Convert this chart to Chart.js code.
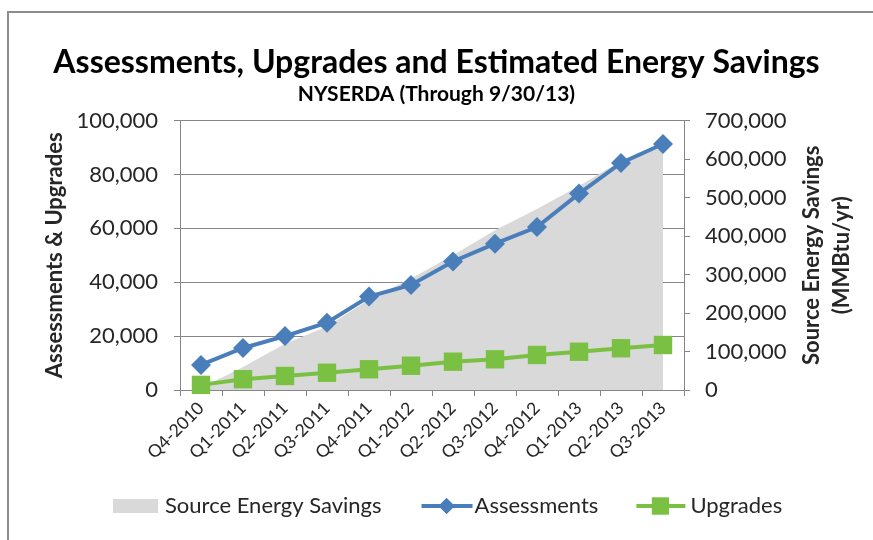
<!DOCTYPE html>
<html>
<head>
<meta charset="utf-8">
<script src="https://cdn.jsdelivr.net/npm/chart.js@4.4.1/dist/chart.umd.min.js"></script>
<style>
  html, body { margin: 0; padding: 0; background: #fff; overflow: hidden; }
  #frame { position: absolute; left: 7px; top: 11px; width: 900px; height: 600px; border: 2px solid #8c8c8c; }
  #wrap { position: absolute; left: 0; top: 0; width: 873px; height: 540px; }
</style>
</head>
<body>
<div id="frame"></div>
<div id="wrap"><canvas id="energyChart" width="873" height="540"></canvas></div>
<script>
// quarters on the x axis
const quarters = ['Q4-2010', 'Q1-2011', 'Q2-2011', 'Q3-2011', 'Q4-2011', 'Q1-2012',
                  'Q2-2012', 'Q3-2012', 'Q4-2012', 'Q1-2013', 'Q2-2013', 'Q3-2013'];

// cumulative counts (left axis)
const assessments = [9300, 15600, 20000, 25000, 34700, 39000, 47700, 54300, 60500, 72900, 84300, 91300];
const upgrades = [1900, 4000, 5200, 6400, 7700, 9000, 10500, 11400, 13000, 14200, 15500, 16700];

// source energy savings, MMBtu/yr (right axis)
const savings = [5000, 60000, 120000, 165000, 235000, 290000, 350000, 415000, 470000, 530000, 595000, 630000];

const axisGray = '#868686';
const textColor = '#262626';
const blue = '#4a7ebb';
const green = '#7ac143';
const fillGray = '#d9d9d9';

Chart.defaults.font.family = 'Lato';
Chart.defaults.color = textColor;

// right axis title reads bottom-to-top, plus an Excel style legend
const extras = {
    id: 'extras',
    afterDraw(chart) {
        const { ctx, chartArea } = chart;
        const midY = (chartArea.top + chartArea.bottom) / 2;

        ctx.save();
        ctx.fillStyle = textColor;
        ctx.font = 'bold 22px Lato';
        ctx.textAlign = 'center';
        ctx.textBaseline = 'middle';
        ctx.translate(chartArea.right + 128, midY);
        ctx.rotate(-Math.PI / 2);
        ctx.fillText('Source Energy Savings', 0, 0);
        ctx.fillText('(MMBtu/yr)', 0, 30);
        ctx.restore();

        // legend
        const y = 506;
        let x = 113;
        ctx.save();
        ctx.font = '22px Lato';
        ctx.textBaseline = 'middle';

        ctx.fillStyle = fillGray;
        ctx.fillRect(x, y - 7, 45, 14);
        x += 52;
        ctx.fillStyle = textColor;
        ctx.fillText('Source Energy Savings', x, y);
        x += ctx.measureText('Source Energy Savings').width + 40;

        ctx.strokeStyle = blue;
        ctx.lineWidth = 4;
        ctx.beginPath(); ctx.moveTo(x, y); ctx.lineTo(x + 51, y); ctx.stroke();
        ctx.fillStyle = blue;
        Chart.helpers.drawPoint(ctx, { pointStyle: 'rectRot', radius: 8, borderWidth: 0 }, x + 25, y);
        ctx.fill();
        x += 53;
        ctx.fillStyle = textColor;
        ctx.fillText('Assessments', x, y);
        x += ctx.measureText('Assessments').width + 38;

        ctx.strokeStyle = green;
        ctx.beginPath(); ctx.moveTo(x, y); ctx.lineTo(x + 49, y); ctx.stroke();
        ctx.fillStyle = green;
        Chart.helpers.drawPoint(ctx, { pointStyle: 'rect', radius: 12, borderWidth: 0 }, x + 24, y);
        ctx.fill();
        x += 54;
        ctx.fillStyle = textColor;
        ctx.fillText('Upgrades', x, y);
        ctx.restore();
    }
};

const ctx = document.getElementById('energyChart').getContext('2d');
const energyChart = new Chart(ctx, {
    type: 'line',
    data: {
        labels: quarters,
        datasets: [
            {
                label: 'Assessments',
                data: assessments,
                borderColor: blue,
                backgroundColor: blue,
                borderWidth: 4,
                pointStyle: 'rectRot',
                pointRadius: 10,
                pointBorderWidth: 0,
                yAxisID: 'y',
                clip: false,
                order: 1
            },
            {
                label: 'Upgrades',
                data: upgrades,
                borderColor: green,
                backgroundColor: green,
                borderWidth: 4,
                pointStyle: 'rect',
                pointRadius: 13,
                pointBorderWidth: 0,
                yAxisID: 'y',
                clip: false,
                order: 2
            },
            {
                label: 'Source Energy Savings',
                data: savings,
                borderWidth: 0,
                backgroundColor: fillGray,
                fill: 'origin',
                pointRadius: 0,
                yAxisID: 'y1',
                order: 10
            }
        ]
    },
    options: {
        responsive: false,
        animation: false,
        layout: {
            padding: { left: 20, right: 20, top: 43, bottom: 70 }
        },
        scales: {
            x: {
                offset: true,
                grid: {
                    offset: true,
                    drawOnChartArea: false,
                    color: axisGray,
                    tickLength: 6
                },
                border: { color: axisGray },
                ticks: {
                    autoSkip: false,
                    minRotation: 45,
                    maxRotation: 45,
                    padding: 2,
                    font: { size: 17.5 }
                },
                afterFit(scale) { scale.height = 80; }
            },
            y: {
                position: 'left',
                min: 0,
                max: 100000,
                ticks: { stepSize: 20000, padding: 16, font: { size: 22 } },
                grid: { color: axisGray, tickLength: 6 },
                border: { color: axisGray },
                title: {
                    display: true,
                    text: 'Assessments & Upgrades',
                    font: { size: 22, weight: 'bold' },
                    padding: { top: 22, bottom: 0 }
                },
                afterFit(scale) { scale.width = 160; }
            },
            y1: {
                position: 'right',
                min: 0,
                max: 700000,
                ticks: { stepSize: 100000, padding: 15, font: { size: 22 } },
                grid: { drawOnChartArea: false, color: axisGray, tickLength: 6 },
                border: { color: axisGray },
                afterFit(scale) { scale.width = 169; }
            }
        },
        plugins: {
            legend: { display: false },
            tooltip: { enabled: false },
            title: {
                display: true,
                text: 'Assessments, Upgrades and Estimated Energy Savings',
                color: '#000',
                font: { size: 32, weight: 'bold' },
                padding: { top: 0, bottom: 0 }
            },
            subtitle: {
                display: true,
                text: 'NYSERDA (Through 9/30/13)',
                color: '#000',
                font: { size: 21, weight: 'bold' },
                padding: { top: 0, bottom: 14 }
            }
        }
    },
    plugins: [extras]
});
</script>
</body>
</html>
